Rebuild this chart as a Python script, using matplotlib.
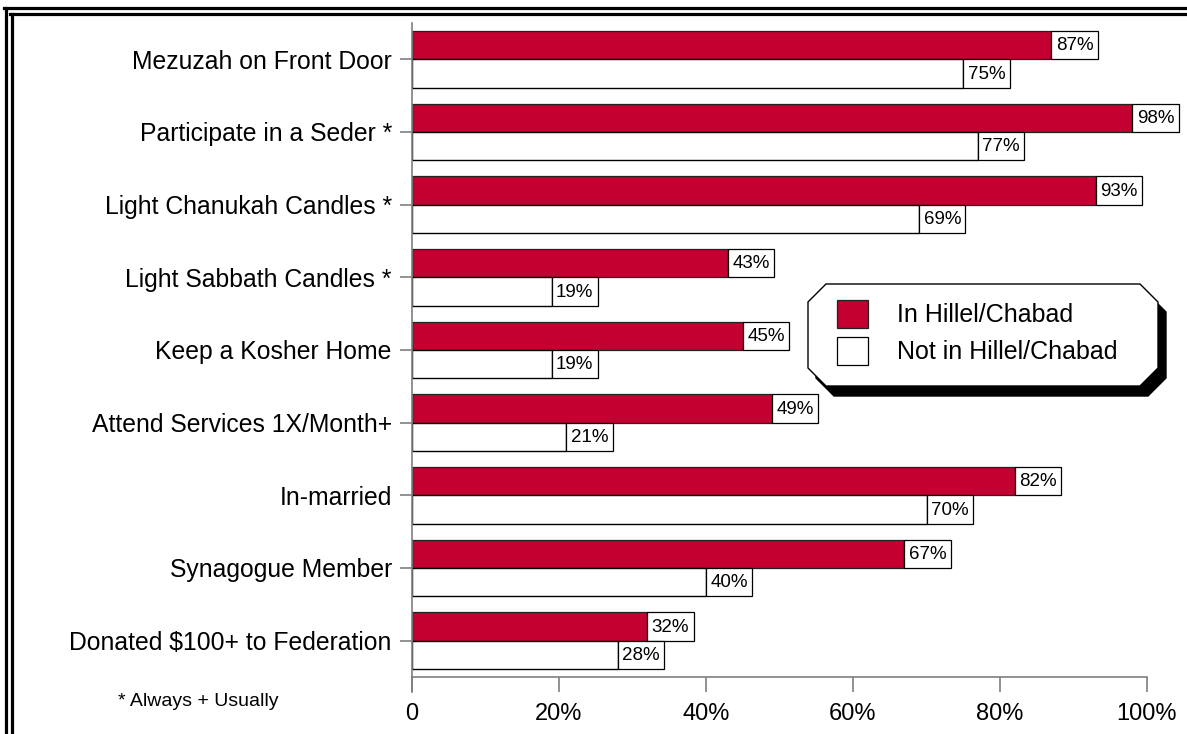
import numpy as np
import matplotlib
matplotlib.use("Agg")
import matplotlib.pyplot as plt
from matplotlib.patches import Polygon, Rectangle
from matplotlib.lines import Line2D

plt.rcParams['font.family'] = ['Liberation Sans', 'DejaVu Sans']

# data
categories = ["Mezuzah on Front Door", "Participate in a Seder *",
              "Light Chanukah Candles *", "Light Sabbath Candles *",
              "Keep a Kosher Home", "Attend Services 1X/Month+",
              "In-married", "Synagogue Member", "Donated $100+ to Federation"]
in_hillel = [87, 98, 93, 43, 45, 49, 82, 67, 32]
not_hillel = [75, 77, 69, 19, 19, 21, 70, 40, 28]
xticks = [0, 20, 40, 60, 80, 100]
xtick_labels = ["0", "20%", "40%", "60%", "80%", "100%"]

RED = "#C3002F"
GRAY = "#7f7f7f"
W, H = 1187, 734


def fx(px):
    return px / W


def fy(py):
    return 1 - py / H


fig = plt.figure(figsize=(11.87, 7.34), dpi=100)
ax = fig.add_axes([fx(412), fy(677), fx(1147) - fx(412), fy(23) - fy(677)])

y = np.arange(len(categories))
h = 0.39
ax.barh(y - h / 2, in_hillel, height=h, color=RED, edgecolor="#222222", linewidth=0.9)
ax.barh(y + h / 2, not_hillel, height=h, color="white", edgecolor="black", linewidth=1.0)

# value boxes
bw = 6.3
for i in range(len(categories)):
    for v, yc in ((in_hillel[i], y[i] - h / 2), (not_hillel[i], y[i] + h / 2)):
        ax.add_patch(Rectangle((v, yc - h / 2), bw, h, facecolor="white",
                               edgecolor="black", linewidth=0.9, clip_on=False, zorder=3))
        ax.text(v + bw / 2, yc + 0.01, f"{v}%", ha="center", va="center",
                fontsize=13.5, zorder=4)

ax.set_xlim(0, 100)
ax.set_ylim(len(categories) - 0.5, -0.5)
ax.set_yticks(y)
ax.set_yticklabels(categories)
ax.set_xticks(xticks)
ax.set_xticklabels(xtick_labels)
ax.tick_params(axis="y", length=8.5, width=1.2, color=GRAY, pad=6, labelsize=17.8)
ax.tick_params(axis="x", length=11, width=1.2, color=GRAY, pad=8, labelsize=17)
for s in ("top", "right"):
    ax.spines[s].set_visible(False)
for s in ("left", "bottom"):
    ax.spines[s].set_color(GRAY)
    ax.spines[s].set_linewidth(1.2)
# extend y axis line down to the tick ends
fig.add_artist(Line2D([fx(412), fx(412)], [fy(677), fy(692)], color=GRAY, lw=1.2))

fig.text(fx(198), fy(702), "* Always + Usually", ha="center", va="center", fontsize=14)

# legend box with chamfered corners and shadow
L, R, T, B, c = 808, 1158, 284, 386, 18


def octagon(dx=0, dy=0):
    pts = [(L + c, T), (R - c, T), (R, T + c), (R, B - c), (R - c, B),
           (L + c, B), (L, B - c), (L, T + c)]
    return [(fx(px + dx), fy(py + dy)) for px, py in pts]


fig.add_artist(Polygon(octagon(8, 10), closed=True, facecolor="black",
                       edgecolor="black", transform=fig.transFigure))
fig.add_artist(Polygon(octagon(), closed=True, facecolor="white",
                       edgecolor="black", linewidth=1.0, transform=fig.transFigure))
fig.add_artist(Rectangle((fx(837), fy(328)), fx(868) - fx(837), fy(300) - fy(328),
                         facecolor=RED, edgecolor="#222222", lw=0.9, transform=fig.transFigure))
fig.add_artist(Rectangle((fx(837), fy(365)), fx(868) - fx(837), fy(337) - fy(365),
                         facecolor="white", edgecolor="black", lw=0.9, transform=fig.transFigure))
fig.text(fx(897), fy(315), "In Hillel/Chabad", ha="left", va="center", fontsize=18)
fig.text(fx(897), fy(352), "Not in Hillel/Chabad", ha="left", va="center", fontsize=18)

# double frame
for xp in (5.5, 11.5):
    fig.add_artist(Line2D([fx(xp), fx(xp)], [fy(8 if xp < 8 else 13.5), 0], color="black", lw=2.3))
for yp, x0 in ((8, 4), (13.5, 10)):
    fig.add_artist(Line2D([fx(x0), 1], [fy(yp), fy(yp)], color="black", lw=2.3))

fig.savefig("out.png", dpi=100)
